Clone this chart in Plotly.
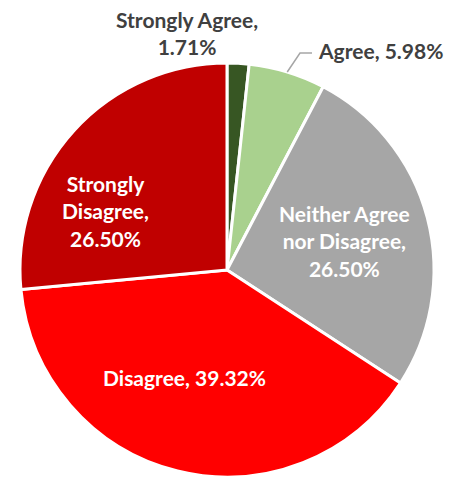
import math
import plotly.graph_objects as go

categories = ["Strongly Agree", "Agree", "Neither Agree nor Disagree", "Disagree", "Strongly Disagree"]
values = [1.71, 5.98, 26.50, 39.32, 26.50]
colors = ["#375623", "#A9D18E", "#A6A6A6", "#FF0000", "#C00000"]
label_texts = ["Strongly Agree,<br>1.71%", "Agree, 5.98%", "Neither Agree<br>nor Disagree,<br>26.50%",
               "Disagree, 39.32%", "Strongly<br>Disagree,<br>26.50%"]

W, H = 450, 477
cx, cy, r = 227, 270, 207

fig = go.Figure(go.Pie(
    labels=categories, values=values, sort=False, direction="clockwise", rotation=0,
    marker=dict(colors=colors, line=dict(color="white", width=3)),
    textinfo="none", hoverinfo="label+percent", showlegend=False,
    domain=dict(x=[(cx - r) / W, (cx + r) / W], y=[(H - cy - r) / H, (H - cy + r) / H]),
))

def paper(px, py):
    return px / W, 1 - py / H

# label placement (pixel positions of label centres)
label_pos = [(187, 33, "center", "#404040"), (316, 50, "left", "#404040"), (344, 241, "center", "white"),
             (184, 377, "center", "white"), (105, 211, "center", "white")]
anns = []
for txt, (px, py, anchor, col) in zip(label_texts, label_pos):
    x, y = paper(px, py)
    anns.append(dict(x=x, y=y, xref="paper", yref="paper", text="<b>" + txt + "</b>", showarrow=False,
                     xanchor=anchor, yanchor="middle", align="center",
                     font=dict(family="Lato", size=21, color=col)))

# leader line for the Agree slice, starting at its mid-angle on the rim
total = sum(values)
start = sum(values[:1])
mid = (start + values[1] / 2) / total * 2 * math.pi
sx, sy = cx + r * math.sin(mid), cy - r * math.cos(mid)
x0, y0 = paper(sx, sy)
x1, y1 = paper(300, 53)
x2, y2 = paper(312, 53)
shapes = [dict(type="path", xref="paper", yref="paper",
               path=f"M {x0} {y0} L {x1} {y1} L {x2} {y2}", line=dict(color="#A6A6A6", width=1.5))]

fig.update_layout(width=W, height=H, margin=dict(l=0, r=0, t=0, b=0), paper_bgcolor="white",
                  annotations=anns, shapes=shapes)
fig.write_html("out.html")
